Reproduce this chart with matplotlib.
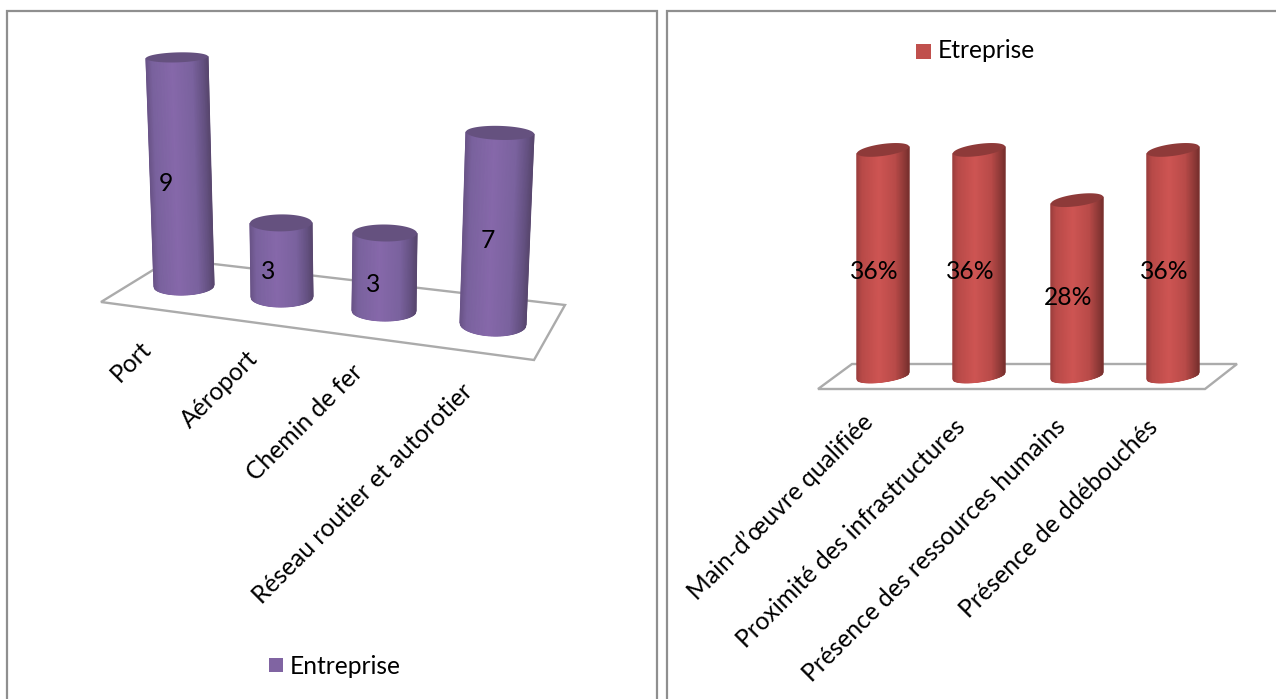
import numpy as np
import matplotlib
matplotlib.use("Agg")
import matplotlib.pyplot as plt
from matplotlib.colors import LinearSegmentedColormap
from matplotlib.patches import Polygon

plt.rcParams['font.family'] = ['Lato', 'DejaVu Sans']

# donnees
ports = ["Port", "Aéroport", "Chemin de fer", "Réseau routier et autorotier"]
ports_vals = [9, 3, 3, 7]
facteurs = ["Main-d’œuvre qualifiée", "Proximité des infrastructures",
            "Présence des ressources humains", "Présence de ddébouchés"]
facteurs_vals = [36, 36, 28, 36]


def degrade(bord, sombre, moyen, clair, fonce):
    return LinearSegmentedColormap.from_list("cyl", [
        (0.0, bord), (0.1, moyen), (0.42, clair), (0.75, moyen),
        (0.93, sombre), (1.0, fonce)])


def cylindre(ax, x, y, haut, dx, rx_h, rx_b, ry_h, ry_b, pente, cmap, cap):
    # corps du cylindre + disque du dessus, y va vers le bas (pixels)
    u = np.linspace(-1, 1, 90)
    x_b = x + rx_b * u
    y_b = y + ry_b * np.sqrt(1 - u ** 2) + pente * rx_b * u
    x_h = x + dx + rx_h * u
    y_h = y - haut + pente * rx_h * u
    X = np.vstack([x_h, x_b])
    Y = np.vstack([y_h, y_b])
    C = np.vstack([(u + 1) / 2, (u + 1) / 2])
    ax.pcolormesh(X, Y, C, cmap=cmap, shading='gouraud', vmin=0, vmax=1,
                  zorder=3, rasterized=True)
    t = np.linspace(0, 2 * np.pi, 120)
    cx = x + dx + rx_h * np.cos(t)
    cy = y - haut + ry_h * np.sin(t) + pente * rx_h * np.cos(t)
    ax.fill(cx, cy, color=cap, lw=0, zorder=4)


fig = plt.figure(figsize=(12.76, 6.99), dpi=100)
ax = fig.add_axes([0, 0, 1, 1])

# cadres des deux graphiques
for xs, ys in [([7, 7, 657, 657], [699, 11, 11, 699]),
               ([667, 667, 1276], [699, 11, 11])]:
    ax.plot(xs, ys, color='#8f8f8f', lw=1.6, zorder=1, solid_joinstyle='miter')

# plancher gauche
ax.add_patch(Polygon([(101, 302), (171, 259), (565, 305), (534, 360)], closed=True,
                     fill=False, edgecolor='#ababab', lw=1.7, zorder=2))
violet = degrade('#6a5488', '#635080', '#7a629e', '#8668aa', '#59476f')
base_x = [184, 282, 384, 493]
base_y = [286, 297, 311, 324]
unite = [25.4, 24.7, 26.0, 27.3]
fuite = [-0.78, -0.33, 0.33, 1.0]
rx_h = [31, 31, 32, 34]
rx_b = [30, 31, 32, 33]
ry_h = [5, 8.5, 8.5, 7]
ry_b = [9, 10, 10, 12]
pente = [-0.03, -0.01, 0.01, 0.03]
for i, v in enumerate(ports_vals):
    cylindre(ax, base_x[i], base_y[i], v * unite[i], v * fuite[i], rx_h[i], rx_b[i],
             ry_h[i], ry_b[i], pente[i], violet, '#65517f')
    ax.text(base_x[i] + v * fuite[i] / 2 - 15 + 2 * i, base_y[i] - v * unite[i] / 2 + 12, str(v),
            fontsize=17.7, ha='center', va='center', color='black', zorder=5)

fin_g = [(139, 337), (246, 347), (351, 360), (461, 380)]
for nom, (x, y) in zip(ports, fin_g):
    ax.text(x, y, nom, rotation=45, rotation_mode='anchor', ha='right', va='top',
            fontsize=17.7, color='black', zorder=5)

# plancher droit
ax.add_patch(Polygon([(818, 389), (852, 364), (1237, 364), (1205, 389)], closed=True,
                     fill=False, edgecolor='#ababab', lw=1.7, zorder=2))
rouge = degrade('#9d3f3e', '#8c3836', '#b84a48', '#ce5553', '#7a302e')
base_x = [883, 979, 1077, 1173]
for i, v in enumerate(facteurs_vals):
    cylindre(ax, base_x[i], 376, v * 6.28, 0, 26, 26, 6, 6, -0.13, rouge, '#8e3a39')
    ax.text(base_x[i] - 9, 376 - v * 6.28 / 2 + 9, f"{v}%",
            fontsize=17.7, ha='center', va='center', color='black', zorder=5)

fin_d = [(861, 410), (953, 415), (1054, 415), (1146, 415)]
for nom, (x, y) in zip(facteurs, fin_d):
    ax.text(x, y, nom, rotation=45, rotation_mode='anchor', ha='right', va='top',
            fontsize=17.7, color='black', zorder=5)

# legendes
ax.add_patch(Polygon([(269, 658), (283, 658), (283, 672), (269, 672)], color='#8064a2', lw=0))
ax.text(290, 666, "Entreprise", fontsize=17.7, va='center', ha='left')
ax.add_patch(Polygon([(916, 44), (931, 44), (931, 59), (916, 59)], color='#c0504d', lw=0))
ax.text(938, 51, "Etreprise", fontsize=17.7, va='center', ha='left')

ax.set_xlim(0, 1276)
ax.set_ylim(699, 0)
ax.axis('off')
fig.savefig("out.png", dpi=100)
